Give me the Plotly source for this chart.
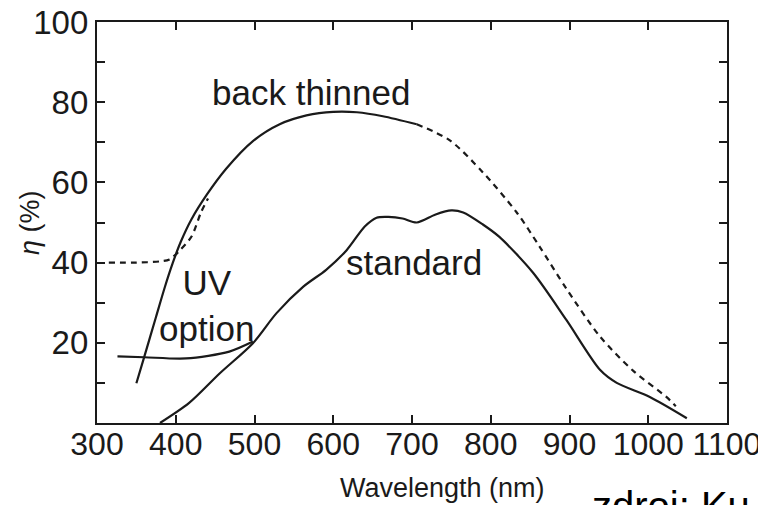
"""Quantum efficiency of CCD sensors: back thinned vs. standard."""

import plotly.graph_objects as go

# back thinned (solid part) and its extrapolation (dashed)
BACK_WL = [350, 360, 375, 386, 396, 406, 420, 439, 464, 498, 532, 566, 600, 630, 663, 706]
BACK_ETA = [9.9, 16.5, 26.5, 33.8, 39.8, 45, 50.8, 56.8, 63.4, 70.3, 74.5, 76.7, 77.6, 77.5,
            76.5, 74.5]
BACK_DASH_WL = [706, 748, 790, 833, 862, 896, 939, 981, 1023, 1035]
BACK_DASH_ETA = [74.5, 70.5, 62.5, 52.5, 44, 33.5, 21.5, 13, 6.5, 4.2]

# standard front illuminated
STD_WL = [380, 417, 456, 498, 528, 562, 591, 617, 640, 655, 670, 688, 706, 730, 750,
          765, 790, 811, 854, 896, 939, 960, 1002, 1049]
STD_ETA = [0, 5, 12.4, 19.9, 27.4, 34, 38.2, 43.1, 49, 51.2, 51.4, 51, 50, 52, 53,
           52.5, 49.5, 46.4, 37.4, 25.7, 13.2, 10, 6.5, 1.2]

# UV option (coated standard, and coated back thinned)
UV_WL = [326, 360, 413, 468, 498]
UV_ETA = [16.6, 16.4, 16.1, 17.8, 20.3]
UV_DASH_WL = [315, 350, 380, 392, 405, 420, 432, 441]
UV_DASH_ETA = [40, 40, 40.3, 40.8, 43, 46.5, 52.5, 56]

X_TICKS = [300, 400, 500, 600, 700, 800, 900, 1000, 1100]
X_LABELS = [str(v) for v in X_TICKS]
Y_TICKS = [0, 10, 20, 30, 40, 50, 60, 70, 80, 90, 100]
Y_LABELS = ["", "", "20", "", "40", "", "60", "", "80", "", "100"]

INK = "#1a1a1a"
FONT = "Liberation Sans, Arial, Helvetica, sans-serif"


def curve(x, y, dash="solid"):
    return go.Scatter(
        x=x, y=y, mode="lines",
        line={"color": INK, "width": 2.2, "dash": dash, "shape": "spline", "smoothing": 0.8},
        showlegend=False, hoverinfo="skip",
    )


fig = go.Figure()
fig.add_trace(curve(BACK_WL, BACK_ETA))
fig.add_trace(curve(BACK_DASH_WL, BACK_DASH_ETA, "6px,5px"))
fig.add_trace(curve(STD_WL, STD_ETA))
fig.add_trace(curve(UV_WL, UV_ETA))
fig.add_trace(curve(UV_DASH_WL, UV_DASH_ETA, "6px,5px"))

labels = [
    ("back thinned", 572, 82.3),
    ("standard", 702, 40.1),
    ("UV<br>option", 439, 29.4),
]
for text, x, y in labels:
    fig.add_annotation(x=x, y=y, text=text, showarrow=False,
                       font={"size": 35, "color": INK, "family": FONT})

fig.add_annotation(text="Wavelength (nm)", xref="paper", yref="paper",
                   x=0.548, y=-0.163, xanchor="center", yanchor="middle",
                   showarrow=False, font={"size": 27, "color": INK, "family": FONT})
fig.add_annotation(text="<i>η</i> (%)", xref="paper", yref="paper",
                   x=-0.107, y=0.5, textangle=-90, xanchor="center", yanchor="middle",
                   showarrow=False, font={"size": 27, "color": INK, "family": FONT})
fig.add_annotation(text="zdroj: Ku", xref="paper", yref="paper",
                   x=0.782, y=-0.147, xanchor="left", yanchor="top",
                   showarrow=False, font={"size": 40, "color": "#000000", "family": FONT})

axis_style = dict(
    showline=True, linecolor=INK, linewidth=2.2, mirror="ticks",
    ticks="inside", ticklen=8, tickwidth=2, tickcolor=INK,
    showgrid=False, zeroline=False, automargin=False, ticklabeloverflow="allow",
)
fig.update_xaxes(range=[300, 1100], tickvals=X_TICKS, ticktext=X_LABELS,
                 ticklabelstandoff=-9,
                 tickfont={"size": 32, "color": INK, "family": FONT}, **axis_style)
fig.update_yaxes(range=[0, 100], tickvals=Y_TICKS, ticktext=Y_LABELS,
                 tickfont={"size": 33, "color": INK, "family": FONT}, **axis_style)

# the page body adds an 8 px offset, so the margins are shifted to compensate
fig.update_layout(
    width=766, height=505,
    margin={"l": 89, "r": 47, "t": 14, "b": 90},
    plot_bgcolor="white", paper_bgcolor="white",
    font={"family": FONT, "color": INK},
)

fig.write_html("out.html")
